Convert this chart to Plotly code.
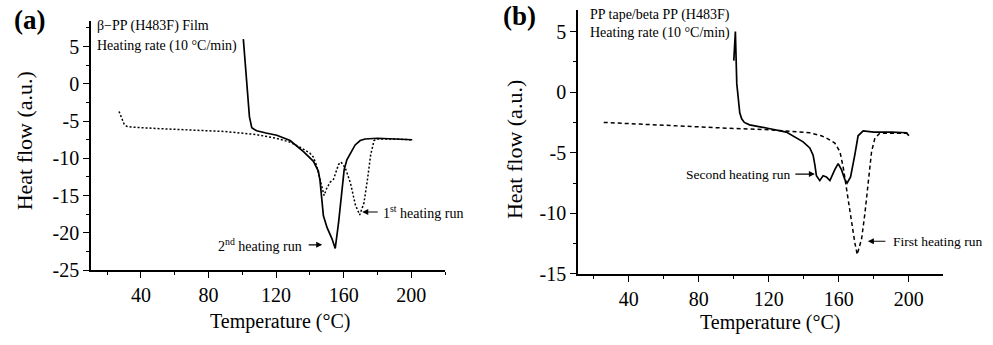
import plotly.graph_objects as go

# ---------------- data ----------------
# Panel (a): beta-PP (H483F) film
T_first_a = [27, 28.5, 30, 31.5, 34, 50, 70, 90, 108, 120, 128, 135, 140, 142, 144, 146, 148.4,
             150, 152, 154, 157, 158.5, 161, 164, 167, 169.5, 172, 174, 176, 178, 180, 190, 200]
H_first_a = [-3.7, -4.6, -5.4, -5.7, -5.8, -6.0, -6.2, -6.4, -6.8, -7.3, -7.8, -8.6, -9.3, -9.8, -11.0, -12.8, -15.0,
             -14.0, -13.2, -12.8, -10.8, -10.5, -11.3, -13.3, -16.3, -17.6, -16.0, -13.0, -9.5, -7.6, -7.4, -7.4, -7.5]

T_second_a = [100.6, 101.6, 102.6, 103.4, 104.2, 105.6, 108.5, 114, 120.4, 128.3, 136.2, 142.1, 145, 146, 147,
              148, 150.2, 153.1, 155, 157, 159, 160.3, 161.9, 164.3, 166.8, 169.8, 172.7, 180, 190, 200.6]
H_second_a = [6.0, 3.0, 0.0, -2.4, -4.4, -5.9, -6.3, -6.6, -6.9, -7.6, -9.1, -10.4, -11.7, -13.0, -15.1,
              -17.7, -19.3, -20.8, -22.1, -18.6, -14.3, -11.5, -10.2, -9.3, -8.2, -7.6, -7.4, -7.3, -7.4, -7.5]

# Panel (b): PP tape / beta PP (H483F)
T_first_b = [25.7, 40, 60, 80, 100, 120, 135, 143.4, 150, 153, 157.7, 160.6, 162.5, 164.4, 166.3, 169.1, 170.5,
             173, 174.9, 176.8, 178.7, 180.6, 183.4, 190, 198.7, 200]
H_first_b = [-2.5, -2.6, -2.75, -2.9, -3.0, -3.1, -3.25, -3.35, -3.6, -3.8, -4.2, -4.9, -6.2, -8.1, -10.0, -12.4, -13.4,
             -12.1, -10.0, -7.3, -4.9, -3.8, -3.4, -3.4, -3.4, -3.5]

T_second_b = [100.0, 100.9, 101.7, 102.5, 103.4, 104.5, 106, 109, 113, 120, 130, 133.9, 139.6, 143.4, 145.3, 146.3,
              147.2, 149.1, 151, 152.9, 154.9, 157.7, 159.6, 161.5, 163.4, 164.7, 166.7, 169.1, 171, 173.9,
              180, 190, 198.7, 200]
H_second_b = [2.6, 5.0, 0.7, -0.6, -1.7, -2.2, -2.5, -2.7, -2.8, -3.0, -3.3, -3.6, -4.1, -4.6, -5.2, -6.0,
              -6.9, -7.3, -6.9, -7.0, -7.3, -6.4, -5.9, -6.4, -7.2, -7.5, -7.0, -5.2, -3.6, -3.2,
              -3.3, -3.3, -3.35, -3.6]

x_ticks = [40, 80, 120, 160, 200]
x_tick_text = ["40", "80", "120", "160", "200"]
y_ticks_a = [5, 0, -5, -10, -15, -20, -25]
y_tick_text_a = ["5", "0", "-5", "-10", "-15", "-20", "-25"]
y_ticks_b = [5, 0, -5, -10, -15]
y_tick_text_b = ["5", "0", "-5", "-10", "-15"]

# ---------------- figure ----------------
W, H = 993, 345
FONT = "Liberation Serif"

def px(x):
    return x / W

def py(y):
    return 1 - y / H

fig = go.Figure()
fig.add_trace(go.Scatter(x=T_first_a, y=H_first_a, mode="lines", xaxis="x", yaxis="y",
                         line=dict(color="black", width=1.5, dash="2px,2px")))
fig.add_trace(go.Scatter(x=T_second_a, y=H_second_a, mode="lines", xaxis="x", yaxis="y",
                         line=dict(color="black", width=1.7)))
fig.add_trace(go.Scatter(x=T_first_b, y=H_first_b, mode="lines", xaxis="x2", yaxis="y2",
                         line=dict(color="black", width=1.5, dash="4px,3px")))
fig.add_trace(go.Scatter(x=T_second_b, y=H_second_b, mode="lines", xaxis="x2", yaxis="y2",
                         line=dict(color="black", width=1.7)))

axis_common = dict(showgrid=False, zeroline=False, showline=True, linecolor="black", linewidth=1.5,
                   ticks="outside", ticklen=6, tickwidth=1.3, tickcolor="black",
                   tickfont=dict(family=FONT, size=20, color="black"))

minor_x = dict(dtick=20, tick0=0, ticklen=3, tickcolor="black", ticks="outside")
minor_y = dict(dtick=2.5, tick0=0, ticklen=3, tickcolor="black", ticks="outside")

fig.update_layout(
    width=W, height=H, margin=dict(l=0, r=0, t=0, b=0),
    paper_bgcolor="white", plot_bgcolor="white", showlegend=False,
    xaxis=dict(domain=[px(91), px(445)], range=[10.4, 220], anchor="y",
               tickvals=x_ticks, ticktext=x_tick_text, minor=minor_x, **axis_common),
    yaxis=dict(domain=[py(279), py(22)], range=[-25, 8.4], anchor="x",
               tickvals=y_ticks_a, ticktext=y_tick_text_a, minor=minor_y, **axis_common),
    xaxis2=dict(domain=[px(578), px(943)], range=[11, 219.5], anchor="y2",
                tickvals=x_ticks, ticktext=x_tick_text, minor=minor_x, **axis_common),
    yaxis2=dict(domain=[py(283), py(10)], range=[-15, 6.8], anchor="x2",
                tickvals=y_ticks_b, ticktext=y_tick_text_b, minor=minor_y, **axis_common),
)

ann = []

def text(x, y, s, size, xanchor="center", yanchor="middle", bold=False, angle=0):
    ann.append(dict(xref="paper", yref="paper", x=px(x), y=py(y), text=("<b>%s</b>" % s) if bold else s,
                    showarrow=False, xanchor=xanchor, yanchor=yanchor, textangle=angle,
                    font=dict(family=FONT, size=size, color="black")))

def arrow(xr, yr, x, y, ax):
    ann.append(dict(xref=xr, yref=yr, x=x, y=y, ax=ax, ay=0, text="", showarrow=True,
                    arrowhead=2, arrowsize=1, arrowwidth=1.2, arrowcolor="black"))

# panel labels
text(12, 21, "(a)", 27, xanchor="left", bold=True)
text(501, 17, "(b)", 27, xanchor="left", bold=True)

# headers
text(95, 27, "β−PP (H483F) Film", 14, xanchor="left")
text(95, 47, "Heating rate (10 °C/min)", 14, xanchor="left")
text(588, 15, "PP tape/beta PP (H483F)", 14, xanchor="left")
text(588, 34, "Heating rate (10 °C/min)", 14, xanchor="left")

# axis titles
text(24, 146, "Heat flow (a.u.)", 22, angle=-90)
text(280, 332, "Temperature (°C)", 20)
text(514, 155, "Heat flow (a.u.)", 22, angle=-90)
text(770, 333, "Temperature (°C)", 20)

# curve labels (a)
text(304, 253, "2<sup>nd</sup> heating run", 14, xanchor="right")
arrow("x", "y", 147.3, -21.6, -15)
text(381, 219, "1<sup>st</sup> heating run", 14, xanchor="left")
arrow("x", "y", 171, -17.2, 17)

# curve labels (b)
text(792, 180, "Second heating run", 13.5, xanchor="right")
arrow("x2", "y2", 146.3, -6.76, -21)
text(891, 249, "First heating run", 13.5, xanchor="left")
arrow("x2", "y2", 176.6, -12.3, 19)

fig.update_layout(annotations=ann)
fig.write_html("out.html")
